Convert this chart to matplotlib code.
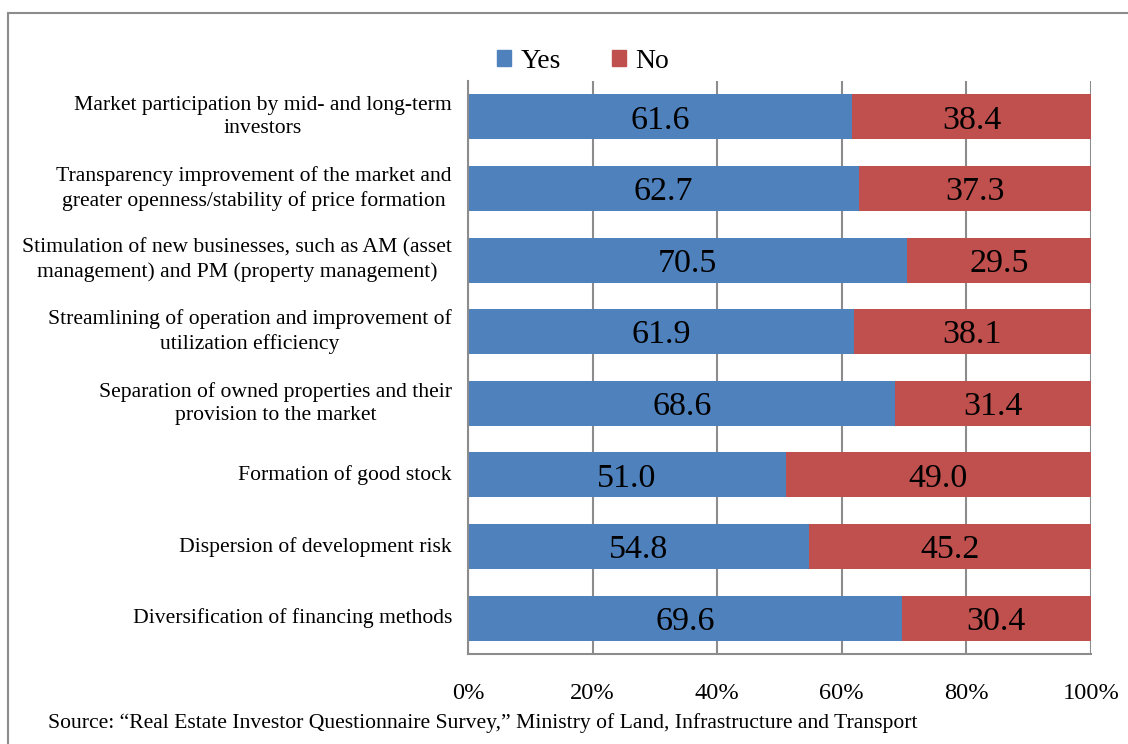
import matplotlib.pyplot as plt
from matplotlib.patches import Rectangle, Patch

plt.rcParams['font.family'] = ['Liberation Serif', 'DejaVu Serif']

categories = [
    "Market participation by mid- and long-term\ninvestors",
    "Transparency improvement of the market and\ngreater openness/stability of price formation",
    "Stimulation of new businesses, such as AM (asset\nmanagement) and PM (property management)",
    "Streamlining of operation and improvement of\nutilization efficiency",
    "Separation of owned properties and their\nprovision to the market",
    "Formation of good stock",
    "Dispersion of development risk",
    "Diversification of financing methods",
]
yes_pct = [61.6, 62.7, 70.5, 61.9, 68.6, 51.0, 54.8, 69.6]
no_pct = [38.4, 37.3, 29.5, 38.1, 31.4, 49.0, 45.2, 30.4]
x_ticks = [0, 20, 40, 60, 80, 100]
source = ("Source: \u201cReal Estate Investor Questionnaire Survey,\u201d "
          "Ministry of Land, Infrastructure and Transport")

BLUE = "#4F81BD"
RED = "#C0504D"
GRID = "#8C8C8C"

fig = plt.figure(figsize=(11.28, 7.44), dpi=100)
ax = fig.add_axes([468 / 1128, 1 - 654 / 744, 623 / 1128, 573 / 744])

y = list(range(len(categories)))
ax.barh(y, yes_pct, height=0.63, color=BLUE, zorder=2, label="Yes")
ax.barh(y, no_pct, left=yes_pct, height=0.63, color=RED, zorder=2, label="No")

for i in y:
    ax.text(yes_pct[i] / 2, i, f"{yes_pct[i]:.1f}", ha="center",
            va="center_baseline", fontsize=24.5, zorder=3)
    ax.text(yes_pct[i] + no_pct[i] / 2, i, f"{no_pct[i]:.1f}", ha="center",
            va="center_baseline", fontsize=24.5, zorder=3)

    # category labels: right-aligned block, lines centred within it
    ax.text(-16 / 623, i, categories[i], transform=ax.get_yaxis_transform(),
            ha="right", va="center", multialignment="center",
            fontsize=15.6, linespacing=1.3)

ax.set_xlim(0, 100)
ax.set_ylim(len(categories) - 0.5, -0.5)
ax.set_xticks(x_ticks)
ax.set_xticklabels([f"{t}%" for t in x_ticks], fontsize=17.6)
ax.set_yticks([])
ax.tick_params(axis="x", length=0, pad=21)

ax.grid(axis="x", color=GRID, linewidth=1.5, zorder=0)
ax.set_axisbelow(True)
for side in ("top", "right"):
    ax.spines[side].set_visible(False)
for side in ("left", "bottom"):
    ax.spines[side].set_color(GRID)
    ax.spines[side].set_linewidth(1.5)

handles = [Patch(color=BLUE, label="Yes"), Patch(color=RED, label="No")]
fig.legend(handles=handles, loc="center", bbox_to_anchor=(583 / 1128, 1 - 61 / 744),
           ncol=2, frameon=False, fontsize=20, handlelength=0.5, handleheight=0.5,
           handletextpad=0.35, columnspacing=1.85)

fig.text(48 / 1128, 1 - 723 / 744, source, fontsize=15.6, va="center", ha="left")

# outer chart frame, running off the right and bottom edges
fig.patches.append(Rectangle((8 / 1128, -0.1), 1.2, 1.1 - 13 / 744,
                             transform=fig.transFigure, fill=False,
                             edgecolor=GRID, linewidth=1.5))

fig.savefig("out.png", dpi=100)
